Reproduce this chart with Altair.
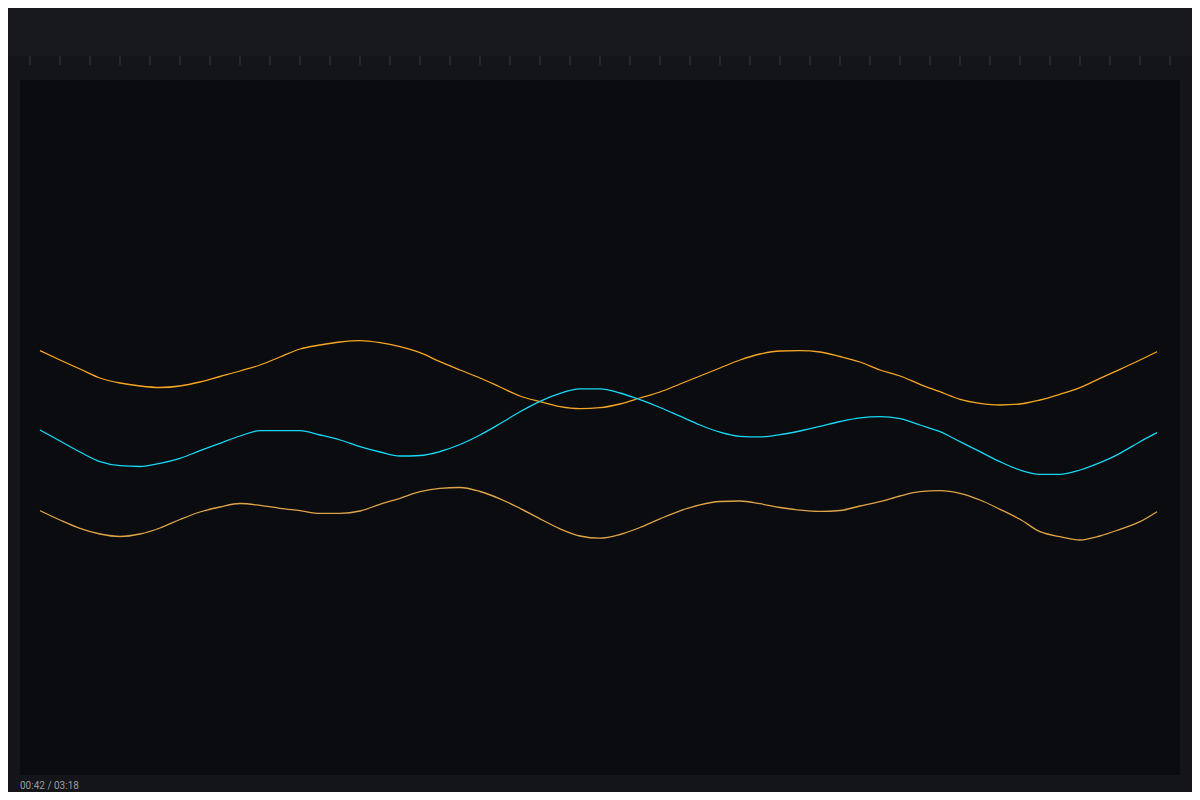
import altair as alt
import pandas as pd

# sample positions (time index) and the three traces
t_vals = list(range(56)) + [55.85]

upper_orange = [424.3, 415, 406, 397, 392, 389, 387.5, 389, 393, 398.5,
                404, 410, 418, 426, 430, 433, 434.3, 432.3, 428.3, 422.3,
                413.3, 405, 397, 388, 379, 373.3, 368.3, 366.3, 367.3, 371,
                377, 383, 391, 399, 407, 415, 421, 424, 424.3, 423,
                418.5, 413, 405, 399, 390.7, 383.3, 375.7, 371.7, 370, 371,
                375, 380.7, 387.3, 396.7, 405.7, 415, 423.3]

cyan = [345, 334, 323, 313.3, 309.3, 308.5, 311.7, 316.7, 324.3, 331.7,
        339, 344.3, 344.3, 344.3, 340, 335, 328.3, 323, 319, 319.5,
        323.5, 330.5, 340, 351.3, 363.3, 373.7, 381.7, 386.2, 386.2, 382,
        375.3, 367.5, 358.8, 350, 342.8, 338.6, 338.1, 340.3, 344, 348.6,
        353.5, 357.2, 358.3, 356.3, 350, 343.3, 333.3, 323.3, 313.3, 305,
        300.7, 300.7, 305, 312.3, 321.7, 333.3, 342.3]

lower_orange = [264.3, 255, 246.7, 241, 238.5, 241, 247, 255.5, 263, 268,
                271.5, 269.7, 266.7, 264.3, 261.7, 261.7, 264, 270.7, 276.7, 283.3,
                286.7, 287.5, 283.5, 276.2, 266.7, 256.2, 246.2, 239, 236.8, 240.5,
                247.5, 256.2, 264.2, 270.2, 273.5, 274, 271.3, 267.5, 264.8, 263.6,
                264.5, 269, 273.3, 279, 283.3, 284.3, 281.7, 275, 265.7, 255.7,
                243.3, 238.3, 235, 239, 245.7, 253.3, 263.3]

series_names = ["upper", "middle", "lower"]
series_colors = ["#f7a623", "#17d8f6", "#e0a448"]

ruler_ticks = [-0.5 + 1.5 * k for k in range(39)]
time_label = "00:42 / 03:18"

rows = []
for name, vals in zip(series_names, [upper_orange, cyan, lower_orange]):
    for t, v in zip(t_vals, vals):
        rows.append({"t": t, "value": v, "series": name})
df = pd.DataFrame(rows)

W, H = 1184, 784
one = alt.Data(values=[{"a": 1}])

top_band = alt.Chart(one).mark_rect(color="#17191e").encode(
    x=alt.value(0), x2=alt.value(W), y=alt.value(0), y2=alt.value(48)
)

plot_bg = alt.Chart(one).mark_rect(color="#0a0c0f").encode(
    x=alt.value(12), x2=alt.value(1172), y=alt.value(72), y2=alt.value(767)
)

ticks = alt.Chart(pd.DataFrame({"tick": ruler_ticks})).mark_rule(
    color="#3a3d44", strokeWidth=1
).encode(
    x=alt.X("tick:Q", axis=None, scale=alt.Scale(domain=[-1, 57], range=[12, 1172])),
    y=alt.value(48), y2=alt.value(57)
)

lines = alt.Chart(df).mark_line(strokeWidth=1.3, interpolate="monotone").encode(
    x=alt.X("t:Q", axis=None, scale=alt.Scale(domain=[-1, 57], range=[12, 1172])),
    y=alt.Y("value:Q", axis=None, scale=alt.Scale(domain=[0, 695], range=[767, 72])),
    color=alt.Color("series:N", legend=None,
                    scale=alt.Scale(domain=series_names, range=series_colors)),
    detail="series:N",
)

label = alt.Chart(alt.Data(values=[{"txt": time_label}])).mark_text(
    align="left", baseline="alphabetic", color="#9a9da3", font="Roboto", fontSize=10
).encode(
    x=alt.value(12), y=alt.value(781), text="txt:N"
)

chart = alt.layer(top_band, plot_bg, ticks, lines, label).properties(
    width=W, height=H, padding=0, autosize=alt.AutoSizeParams(type="none")
).configure(background="#131519").configure_view(stroke=None)

chart.save("out.html", embed_options={"renderer": "svg", "actions": False})
